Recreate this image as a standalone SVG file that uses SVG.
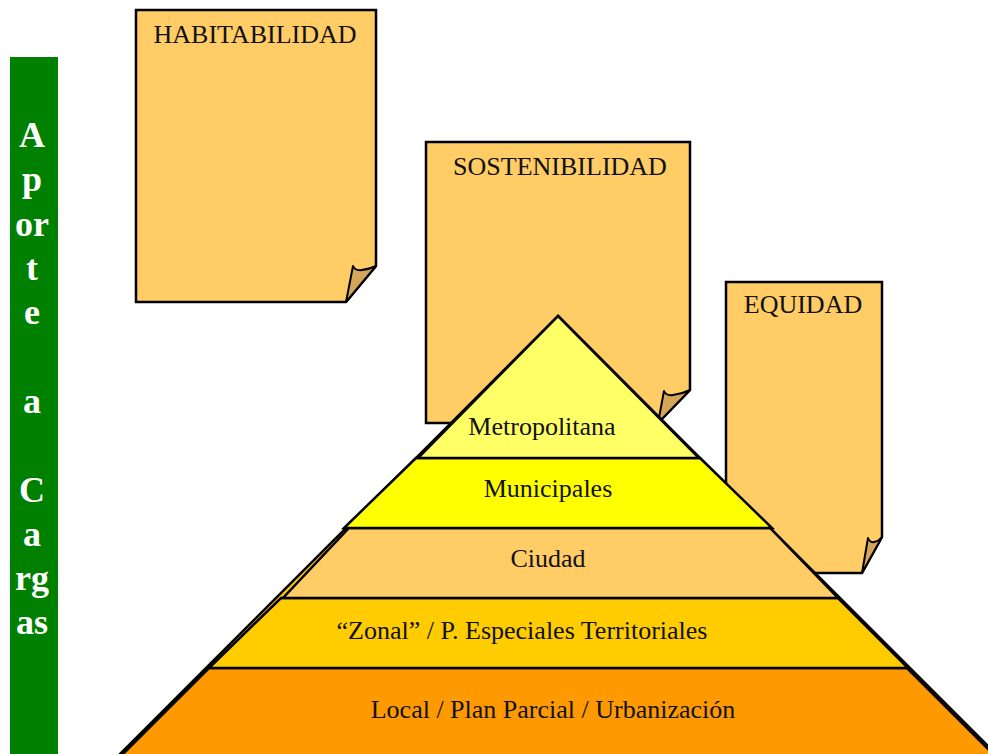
<svg xmlns="http://www.w3.org/2000/svg" width="988" height="754" viewBox="0 0 988 754">
  <style>
    .note { fill: #FFCC66; stroke: #000; stroke-width: 2.5; stroke-linejoin: miter; }
    .flap { fill: #D4A65A; stroke: #000; stroke-width: 2; stroke-linejoin: round; }
    .band { stroke: #000; stroke-width: 2.5; stroke-linejoin: miter; }
    .title { font-family: "Liberation Serif", "Times New Roman", serif; font-size: 26px; fill: #111; text-anchor: middle; }
    .lbl { font-family: "Liberation Serif", "Times New Roman", serif; font-size: 26px; fill: #111; text-anchor: middle; }
    .side { font-family: "Liberation Serif", "Times New Roman", serif; font-size: 36px; font-weight: bold; fill: #fff; text-anchor: middle; }
  </style>

  <rect width="988" height="754" fill="#fff"/>

  <!-- vertical side banner -->
  <g id="aporte-cargas">
    <rect x="10" y="57" width="48" height="710" fill="#008000"/>
    <text class="side" x="32" y="147">A</text>
    <text class="side" x="32" y="191">p</text>
    <text class="side" x="32" y="236">or</text>
    <text class="side" x="32" y="280">t</text>
    <text class="side" x="32" y="324">e</text>
    <text class="side" x="32" y="413">a</text>
    <text class="side" x="32" y="502">C</text>
    <text class="side" x="32" y="546">a</text>
    <text class="side" x="32" y="590">rg</text>
    <text class="side" x="32" y="634">as</text>
  </g>

  <!-- dog-eared notes -->
  <g id="habitabilidad">
    <path class="note" d="M136,10 H376 V266 L346,302 H136 Z"/>
    <path class="flap" d="M346,302 L353,266 Q355,271 362,270 Q370,269 376,266 Z"/>
    <text class="title" x="255" y="43">HABITABILIDAD</text>
  </g>

  <g id="sostenibilidad">
    <path class="note" d="M426,142 H690 V390 L658,423 H426 Z"/>
    <path class="flap" d="M658,423 L664,391 Q666,396 673,395 Q682,394 690,390 Z"/>
    <text class="title" x="560" y="175">SOSTENIBILIDAD</text>
  </g>

  <g id="equidad">
    <path class="note" d="M726,282 H882 V537 L862,573 H726 Z"/>
    <path class="flap" d="M862,573 L868,538 Q870,543 874,542 Q879,541 882,537 Z"/>
    <text class="title" x="803" y="313">EQUIDAD</text>
  </g>

  <!-- pyramid of planning levels -->
  <g id="piramide">
    <path class="band" fill="#FFCC00" d="M558,316 L1002,760 L114,760 Z"/>

    <g id="local">
      <path class="band" fill="#FF9900" d="M209,668 H907 L999,760 H117 Z"/>
      <text class="lbl" x="553" y="718">Local / Plan Parcial / Urbanización</text>
    </g>

    <g id="zonal">
      <path class="band" fill="#FFCC00" d="M281,598 H838 L908,668 H209 Z"/>
      <text class="lbl" x="522" y="639">“Zonal” / P. Especiales Territoriales</text>
    </g>

    <g id="ciudad">
      <path class="band" fill="#FFCC66" d="M349,528 H770 L838,598 H283 Z"/>
      <text class="lbl" x="548" y="567">Ciudad</text>
    </g>

    <g id="municipales">
      <path class="band" fill="#FFFF00" d="M416,458 H700 L772,528 H344 Z"/>
      <text class="lbl" x="548" y="497">Municipales</text>
    </g>

    <g id="metropolitana">
      <path class="band" fill="#FFFF66" d="M558,316 L699,458 H418 Z"/>
      <text class="lbl" x="542" y="435">Metropolitana</text>
    </g>
  </g>
</svg>
